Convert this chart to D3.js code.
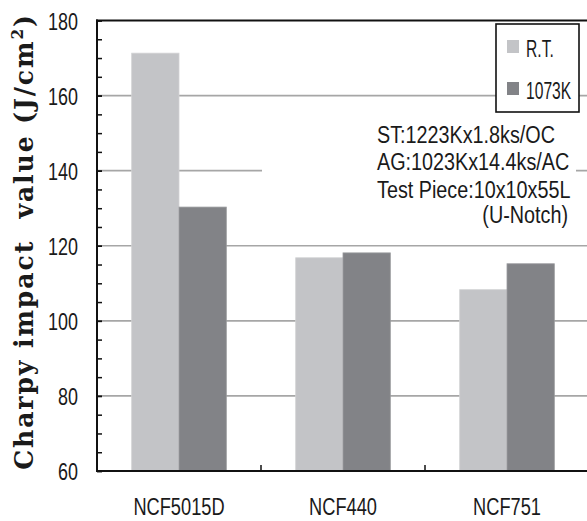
<!DOCTYPE html>
<html>
<head>
<meta charset="utf-8">
<script src="https://cdn.jsdelivr.net/npm/d3@7/dist/d3.min.js"></script>
<style>
  html, body { margin: 0; padding: 0; background: #fff; }
  svg { display: block; }
  .lbl { font-family: "Liberation Sans", Arial, sans-serif; fill: #1a1a1a; }
  .ttl { font-family: "DejaVu Serif", "Liberation Serif", serif; font-weight: bold; fill: #1a1a1a; }
</style>
</head>
<body>
<svg id="chart" width="587" height="521"></svg>
<script>
// Charpy impact values by alloy and test temperature
const categories = ["NCF5015D", "NCF440", "NCF751"];
const seriesNames = ["R.T.", "1073K"];
const rtValues = [171.3, 116.8, 108.3];
const hotValues = [130.3, 118.1, 115.2];
const yTickValues = [60, 80, 100, 120, 140, 160, 180];
const gridValues = [80, 100, 120, 140, 160];
const noteLines = ["ST:1223Kx1.8ks/OC", "AG:1023Kx14.4ks/AC", "Test Piece:10x10x55L"];
const noteLast = "(U-Notch)";
const seriesColors = ["#c3c4c7", "#828387"];
const seriesEdges = ["#d2d3d5", "#9a9b9e"];

const svg = d3.select("#chart");

const plotLeft = 97, plotRight = 589, plotTop = 20.5, plotBottom = 471;

const x0 = d3.scaleBand().domain(categories).range([plotLeft, plotRight]).paddingInner(0).paddingOuter(0);
const x1 = d3.scaleBand().domain(seriesNames).range([0, x0.bandwidth()]).paddingInner(0).paddingOuter(0.733);
const y = d3.scaleLinear().domain([60, 180]).range([plotBottom, plotTop]);
const color = d3.scaleOrdinal().domain(seriesNames).range(seriesColors);
const edge = d3.scaleOrdinal().domain(seriesNames).range(seriesEdges);

// narrow the glyphs of a text horizontally, keeping its anchor point
function condense(sel, sx) {
  sel.each(function () {
    const t = d3.select(this);
    const tx = +t.attr("x") || 0;
    const ty = +t.attr("y") || 0;
    t.attr("x", 0).attr("y", 0)
     .attr("transform", `translate(${tx},${ty}) scale(${sx},1)`);
  });
}

// horizontal grid lines
svg.append("g")
  .selectAll("line")
  .data(gridValues)
  .join("line")
  .attr("x1", plotLeft).attr("x2", plotRight)
  .attr("y1", d => y(d)).attr("y2", d => y(d))
  .attr("stroke", "#a6a6a6").attr("stroke-width", 1.6);

// bars
const rows = categories.map((c, i) => ({ cat: c, values: [rtValues[i], hotValues[i]] }));
svg.append("g")
  .selectAll("g")
  .data(rows)
  .join("g")
  .attr("transform", d => `translate(${x0(d.cat)},0)`)
  .selectAll("rect")
  .data(d => d.values.map((v, j) => ({ key: seriesNames[j], value: v })))
  .join("rect")
  .attr("x", d => x1(d.key))
  .attr("y", d => y(d.value))
  .attr("width", x1.bandwidth())
  .attr("height", d => y(60) - y(d.value))
  .attr("fill", d => color(d.key))
  .attr("stroke", d => edge(d.key))
  .attr("stroke-width", 0.8);

// white panel behind the test-condition note
svg.append("rect")
  .attr("x", 262).attr("y", 108).attr("width", 314).attr("height", 128)
  .attr("fill", "#fff");

// test-condition note
const note = svg.append("g");
note.selectAll("text.line")
  .data(noteLines)
  .join("text")
  .attr("class", "lbl line")
  .attr("x", 377)
  .attr("y", (d, i) => 143 + i * 27.3)
  .style("font-size", "23px")
  .text(d => d)
  .call(condense, 0.86);
note.append("text")
  .attr("class", "lbl")
  .attr("x", 568).attr("y", 223)
  .style("font-size", "23px")
  .attr("text-anchor", "end")
  .text(noteLast)
  .call(condense, 0.86);

// top frame line
svg.append("line")
  .attr("x1", plotLeft - 1).attr("x2", plotRight)
  .attr("y1", y(180)).attr("y2", y(180))
  .attr("stroke", "#111").attr("stroke-width", 2);

// x axis baseline and category separators
svg.append("line")
  .attr("x1", plotLeft - 1).attr("x2", plotRight)
  .attr("y1", y(60)).attr("y2", y(60))
  .attr("stroke", "#111").attr("stroke-width", 2);
svg.append("g")
  .selectAll("line")
  .data(categories.slice(1))
  .join("line")
  .attr("x1", d => x0(d)).attr("x2", d => x0(d))
  .attr("y1", y(60)).attr("y2", y(60) - 6)
  .attr("stroke", "#111").attr("stroke-width", 1.5);

// category labels
svg.append("g")
  .selectAll("text")
  .data(categories)
  .join("text")
  .attr("class", "lbl")
  .attr("x", d => x0(d) + x0.bandwidth() / 2)
  .attr("y", 515)
  .style("font-size", "24px")
  .attr("text-anchor", "middle")
  .text(d => d)
  .call(condense, 0.76);

// y axis: minor ticks every 5, labelled ticks every 20
const yAxisG = svg.append("g").attr("transform", `translate(${plotLeft},0)`);
yAxisG.append("g")
  .call(d3.axisLeft(y).ticks(24).tickSize(-5).tickFormat(""))
  .call(g => g.select(".domain").remove())
  .call(g => g.selectAll("line").attr("stroke", "#111").attr("stroke-width", 1.5));
const major = yAxisG.append("g")
  .call(d3.axisLeft(y).tickValues(yTickValues).tickSize(-5).tickPadding(19).tickFormat(d3.format("d")))
  .call(g => g.select(".domain").remove())
  .call(g => g.selectAll("line").attr("stroke", "#111").attr("stroke-width", 1.5));
major.selectAll("text")
  .attr("class", "lbl")
  .style("font-size", "23px")
  .attr("dy", null)
  .attr("y", 8.5)
  .call(condense, 0.78);
yAxisG.append("line")
  .attr("x1", 0).attr("x2", 0)
  .attr("y1", y(60) + 1).attr("y2", y(180) - 1)
  .attr("stroke", "#111").attr("stroke-width", 2);

// legend
const legend = svg.append("g");
legend.append("rect")
  .attr("x", 496).attr("y", 24).attr("width", 83).attr("height", 88)
  .attr("fill", "#fff").attr("stroke", "#111").attr("stroke-width", 1.6);
const items = legend.selectAll("g.item")
  .data(seriesNames)
  .join("g")
  .attr("class", "item")
  .attr("transform", (d, i) => `translate(507,${40 + i * 42})`);
items.append("rect")
  .attr("width", 12).attr("height", 13)
  .attr("fill", d => color(d));
items.append("text")
  .attr("class", "lbl")
  .attr("x", 19).attr("y", 16.5)
  .style("font-size", "23px")
  .text(d => d)
  .call(condense, 0.68);

// y axis title, fitted to the height of the plot
const title = svg.append("text")
  .attr("class", "ttl")
  .style("font-size", "26px")
  .style("letter-spacing", "2px")
  .attr("text-anchor", "middle")
  .style("white-space", "pre");
title.append("tspan").text("Charpy impact  value (J/cm");
title.append("tspan").style("font-size", "16px").attr("dy", -10).text("2");
title.append("tspan").attr("dy", 10).text(")");
const titleLen = title.node().getComputedTextLength();
title.attr("transform", `translate(33,${(13 + 470) / 2}) rotate(-90) scale(${457 / titleLen},1)`);
</script>
</body>
</html>
